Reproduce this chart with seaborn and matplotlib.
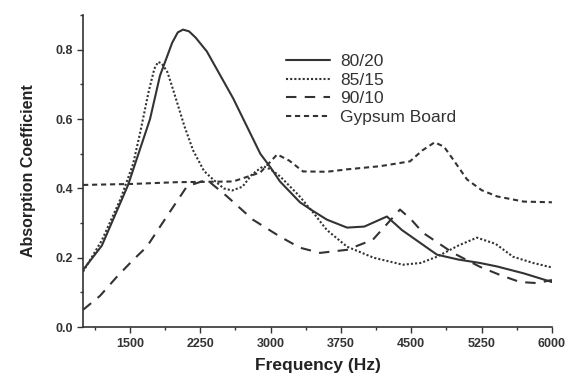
import matplotlib
matplotlib.use("Agg")
from matplotlib import pyplot as plt
from matplotlib.ticker import MultipleLocator
import seaborn as sns
import pandas as pd

# 80/20
f_8020 = [1000, 1200, 1480, 1714, 1820, 1950, 2010, 2066, 2130, 2200, 2320, 2600, 2890, 3000, 3100,
          3313, 3452, 3600, 3815, 4000, 4240, 4400, 4774, 5000, 5232, 5414, 5700, 6000]
a_8020 = [0.165, 0.235, 0.41, 0.60, 0.725, 0.82, 0.85, 0.858, 0.853, 0.835, 0.795, 0.66, 0.50, 0.46, 0.42,
          0.36, 0.335, 0.31, 0.287, 0.29, 0.319, 0.28, 0.209, 0.195, 0.185, 0.175, 0.155, 0.13]
# 85/15
f_8515 = [1000, 1200, 1400, 1533, 1608, 1700, 1760, 1800, 1840, 1900, 1960, 2080, 2173, 2290, 2390, 2500,
          2590, 2700, 2800, 2920, 3000, 3100, 3300, 3455, 3600, 3815, 4100, 4410, 4600, 4774,
          5000, 5200, 5400, 5585, 5800, 6000]
a_8515 = [0.16, 0.25, 0.37, 0.47, 0.56, 0.68, 0.745, 0.765, 0.76, 0.735, 0.685, 0.58, 0.51, 0.45, 0.425, 0.40,
          0.394, 0.405, 0.44, 0.464, 0.455, 0.435, 0.38, 0.33, 0.28, 0.232, 0.20, 0.18, 0.185, 0.203,
          0.235, 0.258, 0.24, 0.203, 0.185, 0.172]
# 90/10
f_9010 = [1000, 1180, 1360, 1520, 1680, 1895, 2108, 2320, 2535, 2810, 3100, 3313, 3527, 3815,
          4090, 4250, 4380, 4500, 4625, 4945, 5232, 5450, 5660, 5840, 6000]
a_9010 = [0.05, 0.09, 0.145, 0.19, 0.232, 0.32, 0.406, 0.425, 0.377, 0.31, 0.261, 0.229, 0.214, 0.223,
          0.252, 0.30, 0.339, 0.31, 0.272, 0.214, 0.174, 0.15, 0.13, 0.127, 0.136]
# Gypsum Board
f_gyp = [1000, 1533, 2000, 2600, 2890, 3070, 3200, 3345, 3600, 3815, 4165, 4486, 4620, 4750,
         4850, 4945, 5094, 5250, 5414, 5700, 6000]
a_gyp = [0.41, 0.413, 0.418, 0.42, 0.446, 0.498, 0.48, 0.449, 0.448, 0.455, 0.464, 0.478, 0.51, 0.533,
         0.52, 0.484, 0.426, 0.395, 0.377, 0.362, 0.36]

names = ["80/20", "85/15", "90/10", "Gypsum Board"]
series = [(f_8020, a_8020), (f_8515, a_8515), (f_9010, a_9010), (f_gyp, a_gyp)]

rows = []
for name, (fs, vs) in zip(names, series):
    for f, v in zip(fs, vs):
        rows.append([name, f, v])
df = pd.DataFrame(rows, columns=["Sample", "Frequency", "Absorption"])

sns.set_style("ticks")
plt.rcParams["font.family"] = ["Liberation Sans", "DejaVu Sans"]

fig = plt.figure(figsize=(5.69, 3.76), dpi=100)
ax = fig.add_axes([0.146, 0.130, 0.824, 0.830])

dashes = {"80/20": "", "85/15": (1, 1), "90/10": (5, 4), "Gypsum Board": (2.5, 1.8)}
palette = {n: "#333333" for n in names}
sns.lineplot(data=df, x="Frequency", y="Absorption", hue="Sample", style="Sample",
             dashes=dashes, palette=palette, sort=False, estimator=None,
             linewidth=1.5, ax=ax)

ax.set_xlim(1000, 6000)
ax.set_ylim(0, 0.9)
ax.set_xticks([1500, 2250, 3000, 3750, 4500, 5250, 6000])
ax.xaxis.set_minor_locator(MultipleLocator(375))
ax.set_yticks([0.0, 0.2, 0.4, 0.6, 0.8])
ax.yaxis.set_minor_locator(MultipleLocator(0.1))
ax.tick_params(which="major", length=4, width=1, labelsize=9, colors="#333333")
ax.tick_params(which="minor", length=2, width=1, color="#333333")
for lab in ax.get_xticklabels() + ax.get_yticklabels():
    lab.set_fontweight("bold")
for s in ["left", "bottom"]:
    ax.spines[s].set_color("#333333")
    ax.spines[s].set_linewidth(1.2)
sns.despine(ax=ax)

ax.set_xlabel("Frequency (Hz)", fontsize=12.5, fontweight="bold", color="#222222", labelpad=6)
ax.set_ylabel("Absorption Coefficient", fontsize=11.5, fontweight="bold", color="#222222", labelpad=14)

leg = ax.legend(frameon=False, loc="upper left", bbox_to_anchor=(0.40, 0.925),
                fontsize=12.5, handlelength=2.5, labelspacing=0.2, handletextpad=0.6)
for t in leg.get_texts():
    t.set_color("#333333")

plt.savefig("out.png", dpi=100)
